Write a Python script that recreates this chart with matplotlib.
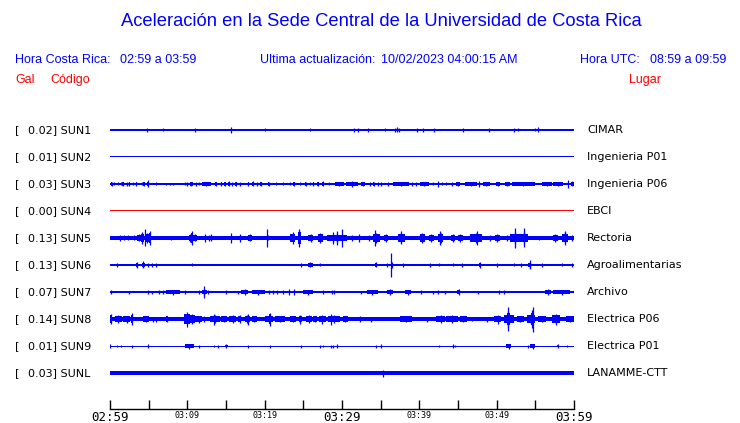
import matplotlib
matplotlib.use("Agg")
import matplotlib.pyplot as plt
import matplotlib.transforms as mtransforms

# station info
codes = ['SUN1', 'SUN2', 'SUN3', 'SUN4', 'SUN5', 'SUN6', 'SUN7', 'SUN8', 'SUN9', 'SUNL']
gal = [0.02, 0.01, 0.03, 0.00, 0.13, 0.13, 0.07, 0.14, 0.01, 0.03]
places = ['CIMAR', 'Ingenieria P01', 'Ingenieria P06', 'EBCI', 'Rectoria',
          'Agroalimentarias', 'Archivo', 'Electrica P06', 'Electrica P01', 'LANAMME-CTT']
# background noise level of each trace (relative amplitude)
noise = [0.7, 0.5, 0.8, 0.5, 1.7, 0.6, 0.6, 1.8, 0.5, 2.2]

tick_minutes = [0, 5, 10, 15, 20, 25, 30, 35, 40, 45, 50, 55, 60]
tick_labels = ['02:59', '', '03:09', '', '03:19', '', '03:29', '', '03:39', '', '03:49', '', '03:59']

# bursts: (start minute, end minute, peak half amplitude) counted from 02:59
sun1 = [(4.8, 4.8, 2), (6.9, 6.9, 1.5), (10.9, 11.2, 2), (15.6, 15.8, 3), (20.0, 20.0, 1.5),
        (25.9, 25.9, 1.5), (31.5, 31.5, 2), (32.1, 32.1, 2), (33.3, 33.3, 2), (35.6, 35.6, 1.5),
        (36.8, 36.8, 2), (37.1, 37.1, 2.5), (37.4, 37.4, 2), (39.7, 39.7, 2), (40.5, 40.5, 2),
        (41.9, 41.9, 2), (45.6, 45.6, 2), (49.0, 49.0, 2), (52.3, 52.3, 2), (52.7, 52.7, 1.5),
        (55.0, 55.0, 1.5), (55.3, 55.5, 2.5)]
sun2 = []
sun3 = [(0.1, 0.3, 2), (0.56, 0.56, 1.5), (0.99, 0.99, 1.5), (1.38, 1.38, 1.5), (1.6, 1.8, 2),
        (2.15, 2.15, 2), (2.4, 2.6, 2), (2.93, 2.93, 1.5), (3.3, 3.5, 2), (4.1, 4.1, 1.5),
        (4.3, 4.5, 2), (4.8, 5.0, 3.5), (6.0, 6.0, 1.5), (7.3, 7.3, 1), (7.76, 7.76, 1),
        (8.1, 8.1, 1), (9.7, 9.7, 1.5), (10.0, 10.0, 2), (10.3, 10.7, 2), (11.1, 11.1, 2),
        (11.5, 11.5, 1.5), (11.85, 13.1, 2), (13.6, 13.8, 2), (14.3, 14.5, 2), (14.8, 15.0, 2),
        (15.3, 15.5, 2.5), (15.8, 15.8, 2), (16.2, 16.4, 2), (16.8, 16.8, 2), (17.8, 18.0, 2),
        (18.4, 18.6, 2.5), (19.0, 19.0, 2), (19.4, 19.6, 2), (20.4, 20.6, 2), (21.5, 21.5, 1.5),
        (22.4, 22.4, 1.5), (23.3, 23.3, 1.5), (23.7, 23.9, 2), (24.6, 24.6, 1.5), (25.2, 25.4, 2),
        (25.8, 25.8, 1.5), (26.2, 26.4, 2), (26.8, 27.0, 2), (27.4, 27.6, 2.5), (28.3, 28.3, 1.5),
        (29.1, 30.2, 2), (30.5, 32.1, 2), (31.3, 31.3, 3), (32.5, 33.0, 2), (33.6, 33.6, 2),
        (34.0, 34.2, 2), (34.6, 34.6, 2), (35.1, 35.1, 2), (36.0, 36.0, 2), (36.6, 38.6, 2),
        (39.0, 39.0, 2), (39.6, 39.6, 2), (40.1, 41.2, 2), (41.8, 41.8, 1.5), (42.4, 42.4, 3),
        (42.9, 42.9, 1.5), (43.4, 43.4, 1.5), (44.2, 44.2, 2), (44.8, 45.3, 2), (45.9, 47.4, 2),
        (47.7, 47.7, 3), (48.2, 49.1, 2), (49.9, 50.4, 2), (51.1, 51.7, 2), (52.0, 54.9, 2),
        (55.8, 57.1, 2), (57.3, 58.6, 2), (59.2, 59.3, 4), (59.6, 60.0, 2.5)]
sun4 = []
sun5 = [(1.1, 1.5, 2.7), (1.8, 1.8, 2.5), (2.3, 2.3, 2.5), (2.9, 3.3, 2.5), (3.5, 4.0, 3.5),
        (4.0, 4.4, 6), (4.5, 4.5, 8.5), (4.6, 5.0, 5), (5.1, 5.2, 7), (7.9, 7.9, 2),
        (10.2, 10.4, 4), (10.5, 10.6, 7), (10.7, 11.3, 3.5), (11.6, 13.9, 3), (12.3, 12.3, 4),
        (13.0, 13.0, 3.5), (15.6, 15.6, 5), (16.8, 16.8, 4), (17.9, 18.4, 3.5), (20.1, 20.7, 2.5),
        (20.3, 20.3, 9), (23.3, 23.9, 6), (24.3, 24.7, 9), (25.6, 26.3, 4), (26.9, 27.5, 5),
        (28.0, 30.6, 4.5), (28.8, 28.8, 6), (29.4, 29.4, 7), (30.0, 30.0, 9), (30.8, 31.9, 3),
        (32.2, 32.2, 4), (33.0, 33.9, 3), (34.0, 34.9, 5), (34.3, 34.3, 8), (35.4, 36.0, 4),
        (37.2, 38.1, 5), (37.6, 37.6, 6.5), (40.1, 40.7, 5), (41.2, 41.9, 4), (42.4, 43.1, 5),
        (42.7, 42.7, 7), (44.1, 44.6, 4), (45.0, 45.6, 4), (46.6, 48.1, 5), (47.4, 47.4, 7),
        (48.8, 49.4, 3), (49.8, 50.4, 4), (51.1, 51.7, 3), (51.7, 53.0, 6), (52.4, 52.4, 10),
        (53.0, 54.0, 6), (53.5, 53.5, 9.5), (54.2, 56.8, 2.2), (57.3, 57.9, 4), (58.5, 59.2, 5.5),
        (58.9, 58.9, 7), (59.4, 60.0, 3)]
sun6 = [(0.95, 0.95, 2), (3.4, 3.6, 3), (4.1, 4.5, 3.5), (4.9, 4.9, 2), (5.4, 5.4, 2),
        (6.0, 6.0, 2), (10.6, 10.6, 1.5), (24.7, 24.7, 2), (25.6, 26.2, 2.5), (27.1, 27.1, 1.5),
        (34.3, 34.5, 2.5), (35.8, 35.8, 2), (36.3, 36.3, 12), (36.4, 36.6, 3), (37.9, 37.9, 2),
        (41.4, 41.4, 2), (42.5, 42.5, 1.5), (44.3, 44.3, 1.5), (45.4, 45.6, 2), (47.7, 47.9, 3),
        (49.9, 50.1, 2), (52.2, 52.2, 1.5), (53.1, 53.3, 2), (54.1, 54.5, 3), (54.3, 54.3, 4.5),
        (55.7, 55.9, 2), (58.5, 58.5, 1.5), (59.7, 59.9, 2)]
sun7 = [(0.0, 0.2, 2), (2.4, 2.4, 1.5), (4.9, 4.9, 2), (5.4, 5.4, 1.5), (6.3, 6.3, 2),
        (6.9, 6.9, 2), (7.3, 9.1, 2.5), (9.7, 9.7, 2), (11.3, 11.6, 2), (11.9, 12.5, 3),
        (12.2, 12.2, 6), (12.6, 12.8, 2), (14.9, 15.2, 2), (16.5, 16.5, 1.5), (16.9, 17.9, 3),
        (18.3, 20.0, 2.5), (20.4, 20.8, 2), (21.0, 21.2, 2), (21.4, 21.8, 2), (22.4, 22.4, 2),
        (23.1, 23.1, 3), (23.8, 23.8, 3), (25.0, 26.2, 2.5), (27.5, 27.5, 2), (28.7, 28.7, 2),
        (29.0, 29.0, 2), (32.5, 32.5, 1.5), (33.2, 34.6, 2.5), (35.8, 36.6, 3), (38.2, 38.9, 2.5),
        (39.7, 40.7, 2), (41.8, 41.8, 1.5), (42.4, 42.4, 2), (43.3, 43.3, 1.5), (44.9, 45.3, 3),
        (47.6, 47.6, 1.5), (50.2, 50.5, 2), (50.9, 50.9, 2), (56.3, 57.0, 3), (57.3, 59.5, 2.5),
        (60.0, 60.0, 2)]
sun8 = [(0.0, 0.3, 5), (0.65, 1.5, 4), (1.7, 2.6, 3.5), (2.7, 2.9, 6), (4.3, 5.0, 3),
        (5.4, 5.6, 2.5), (6.0, 6.0, 2.5), (7.2, 7.5, 3), (9.6, 10.3, 7.5), (10.3, 11.0, 5),
        (11.0, 11.9, 3.5), (12.2, 12.2, 3), (12.9, 14.2, 4), (13.4, 13.4, 5.5), (14.4, 15.1, 3),
        (15.4, 16.3, 4), (16.6, 17.0, 4), (17.4, 18.1, 4), (17.9, 17.9, 5.5), (18.3, 19.0, 3),
        (20.0, 21.1, 4), (20.6, 20.8, 6.5), (21.3, 22.6, 3), (23.3, 24.1, 3), (24.4, 24.8, 4.5),
        (25.4, 26.1, 4), (26.2, 26.8, 3), (27.0, 27.9, 4.5), (28.2, 29.7, 4), (28.6, 28.6, 5.5),
        (30.1, 30.8, 3), (32.3, 32.3, 3), (32.9, 34.6, 2.5), (37.5, 39.0, 3), (40.1, 41.8, 2.5),
        (42.2, 43.3, 4), (43.5, 45.0, 4), (45.3, 46.1, 3), (46.6, 47.0, 2), (48.7, 48.7, 2.5),
        (49.7, 50.6, 4.5), (50.9, 52.2, 5), (51.3, 51.7, 8), (51.5, 51.5, 12), (52.6, 53.5, 3),
        (53.9, 55.0, 5), (54.4, 54.8, 9), (54.7, 54.7, 12.5), (55.3, 56.4, 3), (57.2, 58.2, 5.5),
        (59.0, 60.0, 3)]
sun9 = [(0.0, 0.0, 2), (0.95, 0.95, 1), (1.4, 1.4, 1), (2.8, 2.8, 1.5), (4.9, 4.9, 2),
        (9.7, 10.8, 2.5), (11.5, 11.5, 1.5), (13.4, 13.4, 1), (14.0, 14.0, 1.5), (14.9, 15.2, 2),
        (17.9, 17.9, 1.5), (20.7, 20.7, 1.5), (24.7, 24.7, 1.5), (27.2, 27.2, 1.5), (27.5, 27.5, 1),
        (28.6, 28.6, 1.5), (28.9, 28.9, 1.5), (29.3, 29.3, 2), (34.4, 34.4, 1.5), (35.0, 35.0, 2),
        (42.5, 42.5, 1), (44.3, 44.3, 2), (44.6, 44.6, 1), (51.2, 51.9, 2.5), (54.1, 54.1, 1.5),
        (54.3, 55.0, 2.5), (57.8, 58.0, 2), (59.1, 59.1, 1)]
sunl = [(35.3, 35.3, 3.5)]

events = [sun1, sun2, sun3, sun4, sun5, sun6, sun7, sun8, sun9, sunl]
trace_colors = ['blue'] * 10
trace_colors[3] = 'red'

BLUE = '#0000ff'
RED = '#ff0000'
AMP = 1 / 27.0   # relative amplitude -> trace spacing

fig = plt.figure(figsize=(7.4, 4.23), dpi=100)
ax = fig.add_axes([110 / 740, 14 / 423, 464 / 740, 289 / 423])
ax.set_xlim(0, 60)
ax.set_ylim(10.333, -0.37)

for i, code in enumerate(codes):
    c = BLUE if trace_colors[i] == 'blue' else RED
    nz = noise[i]
    ax.fill_between([0, 60], i - nz * AMP, i + nz * AMP, color=c, lw=0)
    for t0, t1, a in events[i]:
        if t1 > t0:
            # burst body a bit lower than its peak, peak drawn as a spike in the middle
            body = nz + 0.6 * (a - nz)
            ax.fill_between([t0, t1], i - body * AMP, i + body * AMP, color=c, lw=0)
            ax.vlines((t0 + t1) / 2, i - a * AMP, i + a * AMP, color=c, lw=0.9)
        else:
            ax.vlines(t0, i - a * AMP, i + a * AMP, color=c, lw=0.9)

# axis styling
for s in ['top', 'left', 'right']:
    ax.spines[s].set_visible(False)
ax.spines['bottom'].set_linewidth(1)
ax.set_yticks([])
ax.set_xticks(tick_minutes)
ax.set_xticklabels(tick_labels)
ax.tick_params(axis='x', direction='in', length=6.5, width=1, pad=1.5)
for lab in ax.get_xticklabels():
    lab.set_family('DejaVu Sans Mono')
    if lab.get_text() in ('02:59', '03:29', '03:59'):
        lab.set_fontsize(9)
    else:
        lab.set_fontsize(6)

# station labels
tr = mtransforms.blended_transform_factory(fig.transFigure, ax.transData)
for i, code in enumerate(codes):
    ax.text(15 / 740, i, '[', transform=tr, fontsize=8, va='center', ha='left')
    ax.text(27.5 / 740, i, '%.2f] %s' % (gal[i], code), transform=tr, fontsize=8,
            va='center', ha='left')
    ax.text(587 / 740, i, places[i], transform=tr, fontsize=8, va='center', ha='left')

# header
hf = 'Liberation Sans'
fig.text(381 / 740, 1 - 22 / 423, 'Aceleración en la Sede Central de la Universidad de Costa Rica',
         family=hf, fontsize=13.2, color=BLUE, ha='center', va='center')
fig.text(15 / 740, 1 - 60 / 423, 'Hora Costa Rica:', family=hf, fontsize=9, color=BLUE, va='center')
fig.text(120 / 740, 1 - 60 / 423, '02:59 a 03:59', family=hf, fontsize=9, color=BLUE, va='center')
fig.text(260 / 740, 1 - 60 / 423, 'Ultima actualización:', family=hf, fontsize=9, color=BLUE, va='center')
fig.text(381 / 740, 1 - 60 / 423, '10/02/2023 04:00:15 AM', family=hf, fontsize=9, color=BLUE, va='center')
fig.text(580 / 740, 1 - 60 / 423, 'Hora UTC:', family=hf, fontsize=9, color=BLUE, va='center')
fig.text(650 / 740, 1 - 60 / 423, '08:59 a 09:59', family=hf, fontsize=9, color=BLUE, va='center')
fig.text(15 / 740, 1 - 80 / 423, 'Gal', family=hf, fontsize=9, color=RED, va='center')
fig.text(50 / 740, 1 - 80 / 423, 'Código', family=hf, fontsize=9, color=RED, va='center')
fig.text(629 / 740, 1 - 80 / 423, 'Lugar', family=hf, fontsize=9, color=RED, va='center')

fig.savefig('out.png', dpi=100)
